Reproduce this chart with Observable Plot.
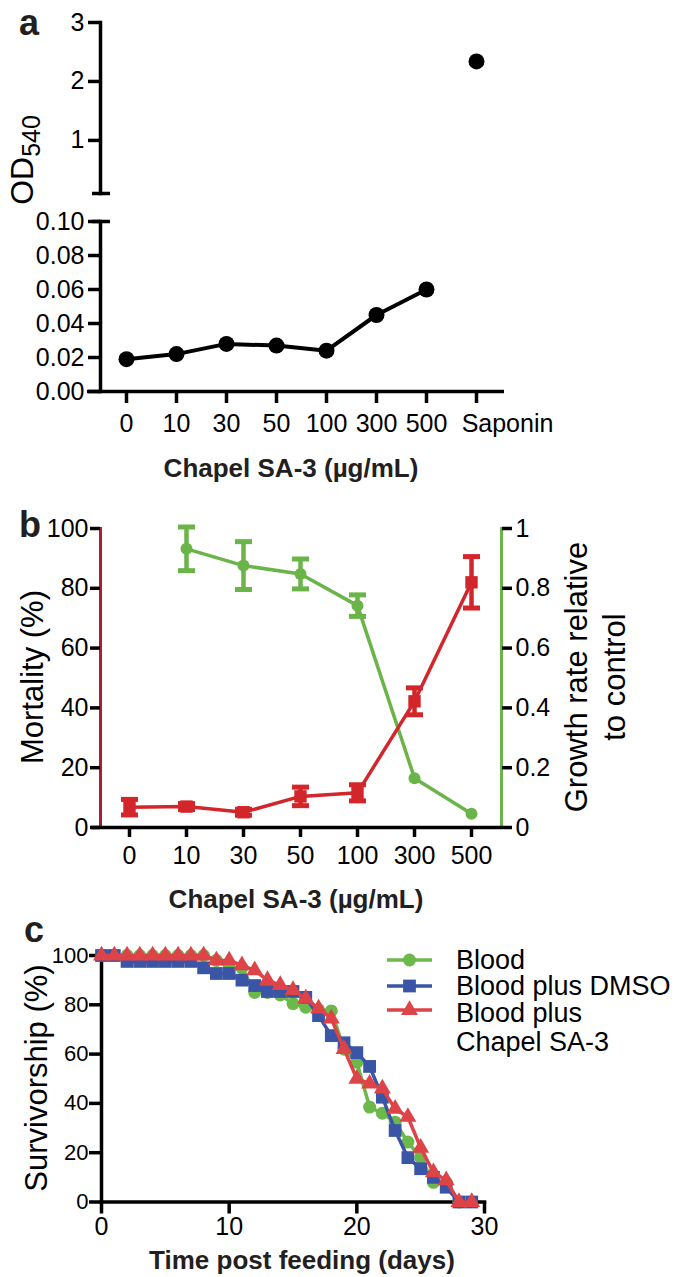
<!DOCTYPE html>
<html><head><meta charset="utf-8">
<script src="https://cdn.jsdelivr.net/npm/d3@7"></script>
<script src="https://cdn.jsdelivr.net/npm/@observablehq/plot@0.6"></script>
<style>
html,body{margin:0;padding:0;background:#fff;}
#fig{position:relative;width:675px;height:1277px;overflow:hidden;font-family:"Liberation Sans",Arial,Helvetica,sans-serif;color:#000;}
.letter{position:absolute;font-weight:bold;font-size:36px;line-height:40px;color:#231f20;}
.xtitle{position:absolute;font-weight:bold;font-size:26px;line-height:1;color:#231f20;transform:translate(-50%,-50%);white-space:nowrap;}
.ytitle{position:absolute;font-size:31px;line-height:1;transform:translate(-50%,-50%) rotate(-90deg);white-space:nowrap;text-align:center;}
.leg{position:absolute;font-size:27px;white-space:nowrap;}
</style></head>
<body><div id="fig"></div>
<script>
// ---------- DATA ----------
// panel a
const concLabelsA = ["0","10","30","50","100","300","500","Saponin"];
const odConc = ["0","10","30","50","100","300","500"];
const odValues = [0.019, 0.022, 0.028, 0.027, 0.024, 0.045, 0.060];
const saponinLabel = "Saponin";
const saponinOD = 2.34;
const odTopTicks = [1, 2, 3];
const odBottomTicks = [0, 0.02, 0.04, 0.06, 0.08, 0.10];
// panel b
const concLabelsB = ["0","10","30","50","100","300","500"];
const mortality = [6.8, 7.0, 5.1, 10.4, 11.6, 42.2, 82.0];
const mortalityErr = [2.6, 1.0, 1.0, 3.1, 2.7, 4.5, 8.6];
const growthConc = ["10","30","50","100","300","500"];
const growthRate = [0.932, 0.876, 0.848, 0.742, 0.165, 0.046];
const growthErr = [0.073, 0.080, 0.050, 0.036, 0, 0];
const mortalityTicks = [0, 20, 40, 60, 80, 100];
const growthTicks = [0, 0.2, 0.4, 0.6, 0.8, 1];
// panel c
const daysBlood = [0,1,2,3,4,5,6,7,8,9,10,11,12,13,14,15,16,17,18,19,20,21,22,23,24,25,26,27,28];
const survBlood = [100,100,100,100,100,100,100,100,100,98,95,95,85,85,84,80.5,79,78,77.5,62,56.7,38.5,36,32.4,24.3,18,8,8,0];
const daysDMSO = [0,1,2,3,4,5,6,7,8,9,10,11,12,13,14,15,16,17,18,19,20,21,22,23,24,25,26,27,28,29];
const survDMSO = [100,100,97.6,97.6,97.6,97.6,97.6,97.6,95,92.7,92.7,90,87.8,85.4,85.4,85.4,83,75.6,67.5,64.6,60.6,55,42.5,29,18,13.5,10,6,0,0];
const daysSA3 = [0,1,2,3,4,5,6,7,8,9,10,11,12,13,14,15,16,17,18,19,20,21,22,23,24,25,26,27,28,29];
const survSA3 = [100,100,100,100,100,100,100,100,100,98,98,96,94,90,88,86,82.5,78.5,74.4,62,50,48,46,37.8,34.5,22,12,8.8,0,0];
const survTicksY = [0, 20, 40, 60, 80, 100];
const survTicksX = [0, 10, 20, 30];
const seriesNames = ["Blood", "Blood plus DMSO", "Blood plus Chapel SA-3"];

// ---------- STYLE ----------
const FONT = '"Liberation Sans", Arial, Helvetica, sans-serif';
const RED = "#d3262b", RED_AXIS = "#a81e34", GREEN = "#6ab44a";
const C_GREEN = "#6cb84b", C_BLUE = "#3a55a5", C_RED = "#dd4347";
const SW = 3.5;
const TICK_FS = 25;
const baseStyle = {background: "transparent", overflow: "visible", fontFamily: FONT, color: "black"};
const fig = document.getElementById("fig");
function place(el, top) {
  el.style.position = "absolute"; el.style.left = "0px"; el.style.top = top + "px";
  fig.appendChild(el);
}
function html(cls, text, css) {
  const d = document.createElement("div");
  d.className = cls; d.innerHTML = text; Object.assign(d.style, css); fig.appendChild(d); return d;
}
// horizontal cap symbol for error bars (half-width = r)
const capSymbol = {draw(ctx, size) { const w = Math.sqrt(size / Math.PI); ctx.moveTo(-w, 0); ctx.lineTo(w, 0); }};

// ---------- PANEL a (top, broken axis) ----------
const odRows = odConc.map((c, i) => ({conc: c, od: odValues[i]}));
const A1 = Plot.plot({
  width: 675, height: 200, marginLeft: 100, marginRight: 171, marginTop: 22, marginBottom: 7,
  style: baseStyle,
  x: {type: "point", domain: concLabelsA, range: [124, 477], padding: 0, axis: null},
  y: {domain: [0.1, 3]},
  marks: [
    Plot.frame({anchor: "left", stroke: "black", strokeWidth: SW}),
    Plot.ruleY([0.1], {stroke: "black", strokeWidth: SW, insetLeft: -8, insetRight: 394}),
    Plot.axisY({anchor: "left", ticks: odTopTicks, tickFormat: d3.format("d"), tickSize: 12, tickPadding: 4, strokeWidth: SW, fontSize: TICK_FS, label: null}),
    Plot.dot([{conc: saponinLabel, od: saponinOD}], {x: "conc", y: "od", r: 8, fill: "black"})
  ]
});
place(A1, 0);

const A2 = Plot.plot({
  width: 675, height: 290, marginLeft: 100, marginRight: 171, marginTop: 21, marginBottom: 99,
  style: baseStyle,
  x: {type: "point", domain: concLabelsA, range: [124, 477], padding: 0},
  y: {domain: [0, 0.1]},
  marks: [
    Plot.frame({anchor: "left", stroke: "black", strokeWidth: SW}),
    Plot.ruleY([0], {stroke: "black", strokeWidth: SW, insetLeft: -13}),
    Plot.ruleY([0.1], {stroke: "black", strokeWidth: SW, insetLeft: -8, insetRight: 394}),
    Plot.axisY({anchor: "left", ticks: odBottomTicks, tickFormat: d3.format(".2f"), tickSize: 12, tickPadding: 4, strokeWidth: SW, fontSize: TICK_FS, label: null}),
    Plot.axisX({anchor: "bottom", ticks: concLabelsA, tickFormat: d => d === saponinLabel ? "" : d, tickSize: 12, tickPadding: 11, strokeWidth: SW, fontSize: TICK_FS, label: null}),
    Plot.axisX({anchor: "bottom", ticks: [saponinLabel], tickSize: 0, tickPadding: 23, dx: 31, fontSize: TICK_FS, label: null}),
    Plot.line(odRows, {x: "conc", y: "od", stroke: "black", strokeWidth: 4}),
    Plot.dot(odRows, {x: "conc", y: "od", r: 8, fill: "black"})
  ]
});
place(A2, 200);

// ---------- PANEL b ----------
const mortRows = concLabelsB.map((c, i) => ({conc: c, v: mortality[i], e: mortalityErr[i]}));
const growRows = growthConc.map((c, i) => ({conc: c, v: growthRate[i] * 100, e: growthErr[i] * 100}));
const growErrRows = growRows.filter(d => d.e > 0);
const B = Plot.plot({
  width: 675, height: 400, marginLeft: 100, marginRight: 174, marginTop: 48, marginBottom: 53,
  style: baseStyle,
  x: {type: "point", domain: concLabelsB, range: [128.6, 472], padding: 0},
  y: {domain: [0, 100]},
  marks: [
    Plot.frame({anchor: "left", stroke: RED_AXIS, strokeWidth: 3}),
    Plot.frame({anchor: "right", stroke: GREEN, strokeWidth: 3}),
    Plot.ruleY([0], {stroke: "black", strokeWidth: SW, insetLeft: -9, insetRight: -1}),
    Plot.axisY({anchor: "left", ticks: mortalityTicks, tickSize: 10, tickPadding: 2, strokeWidth: SW, fontSize: TICK_FS, label: null}),
    Plot.axisY({anchor: "right", ticks: growthTicks.map(t => t * 100), tickFormat: d => String(growthTicks[mortalityTicks.indexOf(d)]), tickSize: 10, tickPadding: 4, strokeWidth: SW, fontSize: TICK_FS, label: null}),
    Plot.axisX({anchor: "bottom", ticks: concLabelsB, tickSize: 10, tickPadding: 9, strokeWidth: SW, fontSize: TICK_FS, label: null}),
    // growth (green)
    Plot.line(growRows, {x: "conc", y: "v", stroke: GREEN, strokeWidth: SW}),
    Plot.ruleX(growErrRows, {x: "conc", y1: d => d.v - d.e, y2: d => d.v + d.e, stroke: GREEN, strokeWidth: 4.5}),
    Plot.dot(growErrRows, {x: "conc", y: d => d.v - d.e, symbol: capSymbol, r: 8.5, fill: "none", stroke: GREEN, strokeWidth: 5}),
    Plot.dot(growErrRows, {x: "conc", y: d => d.v + d.e, symbol: capSymbol, r: 8.5, fill: "none", stroke: GREEN, strokeWidth: 5}),
    Plot.dot(growRows, {x: "conc", y: "v", r: 6, fill: GREEN}),
    // mortality (red)
    Plot.line(mortRows, {x: "conc", y: "v", stroke: RED, strokeWidth: SW}),
    Plot.ruleX(mortRows, {x: "conc", y1: d => d.v - d.e, y2: d => d.v + d.e, stroke: RED, strokeWidth: 4.5}),
    Plot.dot(mortRows, {x: "conc", y: d => d.v - d.e, symbol: capSymbol, r: 8.5, fill: "none", stroke: RED, strokeWidth: 5}),
    Plot.dot(mortRows, {x: "conc", y: d => d.v + d.e, symbol: capSymbol, r: 8.5, fill: "none", stroke: RED, strokeWidth: 5}),
    Plot.dot(mortRows, {x: "conc", y: "v", r: 7, symbol: "square", fill: RED})
  ]
});
place(B, 480);

// ---------- PANEL c ----------
const rowsBlood = daysBlood.map((d, i) => ({day: d, s: survBlood[i]}));
const rowsDMSO = daysDMSO.map((d, i) => ({day: d, s: survDMSO[i]}));
const rowsSA3 = daysSA3.map((d, i) => ({day: d, s: survSA3[i]}));
const C = Plot.plot({
  width: 675, height: 387, marginLeft: 101, marginRight: 191, marginTop: 65, marginBottom: 75.5,
  style: baseStyle,
  x: {domain: [0, 30]},
  y: {domain: [0, 100]},
  marks: [
    Plot.frame({anchor: "left", stroke: "black", strokeWidth: SW}),
    Plot.frame({anchor: "bottom", stroke: "black", strokeWidth: SW}),
    Plot.axisY({anchor: "left", ticks: survTicksY, tickSize: 12, tickPadding: 1, strokeWidth: SW, fontSize: 22, label: null}),
    Plot.axisX({anchor: "bottom", ticks: survTicksX, tickSize: 12, tickPadding: 3, strokeWidth: SW, fontSize: TICK_FS, label: null}),
    Plot.line(rowsBlood, {x: "day", y: "s", stroke: C_GREEN, strokeWidth: SW}),
    Plot.dot(rowsBlood, {x: "day", y: "s", r: 6.5, symbol: "circle", fill: C_GREEN}),
    Plot.line(rowsDMSO, {x: "day", y: "s", stroke: C_BLUE, strokeWidth: SW}),
    Plot.dot(rowsDMSO, {x: "day", y: "s", r: 7.2, symbol: "square", fill: C_BLUE}),
    Plot.line(rowsSA3, {x: "day", y: "s", stroke: C_RED, strokeWidth: SW}),
    Plot.dot(rowsSA3, {x: "day", y: "s", r: 6.3, symbol: "triangle", fill: C_RED})
  ]
});
place(C, 890);

// ---------- LEGEND (panel c) ----------
const legendColors = [C_GREEN, C_BLUE, C_RED];
const legendSymbols = [d3.symbolCircle, d3.symbolSquare, d3.symbolTriangle];
const legendR = [6.5, 7.2, 6.3];
const legendY = [960, 985.5, 1010];
seriesNames.forEach((name, i) => {
  const ns = "http://www.w3.org/2000/svg";
  const svg = document.createElementNS(ns, "svg");
  svg.setAttribute("width", 50); svg.setAttribute("height", 26);
  svg.style.position = "absolute"; svg.style.left = "385px"; svg.style.top = (legendY[i] - 13) + "px";
  const ln = document.createElementNS(ns, "line");
  ln.setAttribute("x1", 2); ln.setAttribute("x2", 47); ln.setAttribute("y1", 13); ln.setAttribute("y2", 13);
  ln.setAttribute("stroke", legendColors[i]); ln.setAttribute("stroke-width", SW);
  svg.appendChild(ln);
  const p = document.createElementNS(ns, "path");
  p.setAttribute("d", d3.symbol(legendSymbols[i], Math.PI * legendR[i] * legendR[i])());
  p.setAttribute("transform", "translate(24.5,13)"); p.setAttribute("fill", legendColors[i]);
  svg.appendChild(p);
  fig.appendChild(svg);
  if (i === 2) {
    html("leg", "Blood plus<br>Chapel SA-3", {left: "456px", top: (legendY[i] - 11) + "px", lineHeight: "29px", height: "51px"});
  } else {
    html("leg", name, {left: "456px", top: (legendY[i] - 11) + "px", lineHeight: "22px", height: "22px"});
  }
});

// ---------- TEXT: letters and titles ----------
html("letter", "a", {left: "19px", top: "3px"});
html("letter", "b", {left: "19px", top: "505px"});
html("letter", "c", {left: "24px", top: "910px"});
html("xtitle", "Chapel SA-3 (µg/mL)", {left: "291px", top: "468px"});
html("xtitle", "Chapel SA-3 (µg/mL)", {left: "296px", top: "899px"});
html("xtitle", "Time post feeding (days)", {left: "302px", top: "1260px"});
html("ytitle", 'OD<span style="font-size:25px;position:relative;top:7px;">540</span>', {left: "22px", top: "160px", fontSize: "32px"});
html("ytitle", "Mortality (%)", {left: "32px", top: "677px"});
html("ytitle", "Growth rate relative<br>to control", {left: "596px", top: "677px", lineHeight: "38px"});
html("ytitle", "Survivorship (%)", {left: "36px", top: "1078px"});
</script></body></html>
